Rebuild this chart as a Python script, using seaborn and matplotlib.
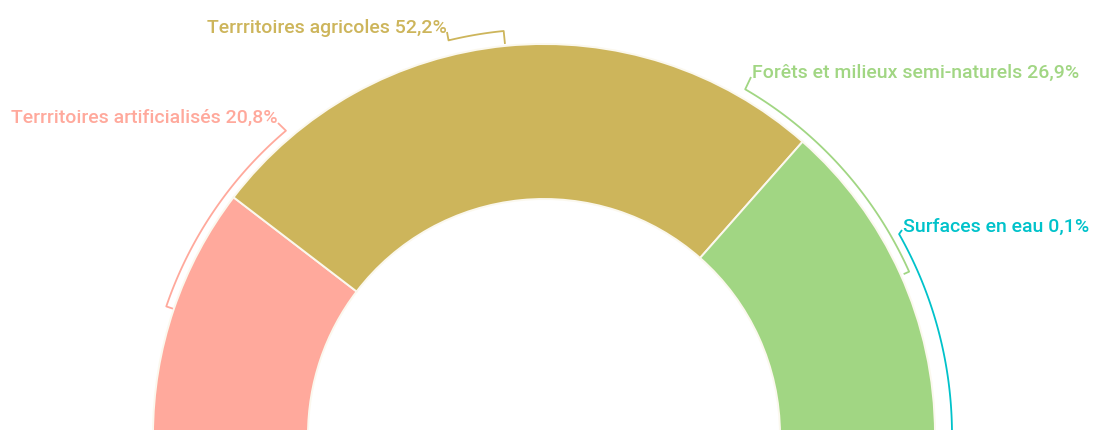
import numpy as np
import seaborn as sns
import matplotlib.pyplot as plt

# données : occupation du sol (%)
categories = ["Terrritoires artificialisés", "Terrritoires agricoles",
              "Forêts et milieux semi-naturels", "Surfaces en eau"]
valeurs = [20.8, 52.2, 26.9, 0.1]
etiquettes = ["20,8%", "52,2%", "26,9%", "0,1%"]
couleurs = ["#FFA99C", "#CDB55B", "#A1D683", "#00C2CA"]

W, H = 1093, 431

sns.set_theme(style="white")
plt.rcParams['font.family'] = ['Roboto', 'DejaVu Sans']

fig = plt.figure(figsize=(W / 100, H / 100), dpi=100)
ax = fig.add_axes([0, 0, 1, 1])

# centre du demi-anneau en pixels (y vers le bas)
cx, cy = 544, 436
r_ext, r_int = 391, 236


def pt(x, y):
    # pixel -> coordonnées du graphe
    return x, H - y


# demi-anneau : la moitié basse est invisible
ax.pie(valeurs + [sum(valeurs)], colors=couleurs + ["none"],
       center=pt(cx, cy), radius=r_ext, startangle=180, counterclock=False,
       wedgeprops=dict(width=r_ext - r_int, edgecolor="#FBF8EE", linewidth=1.4),
       frame=True)
ax.patches[-1].set_edgecolor("none")

# accolades autour de l'anneau : (ancre étiquette px, angle début, angle fin, rayon, rayon du crochet)
accolades = [
    ((278, 124), 130.3, 161.2, 399, 392),
    ((447, 33), 103.6, 95.7, 406, 393),
    ((751, 78), 59.8, 24.1, 400, 394),
    ((902, 231), 29.5, -2.0, 408, None),
]
# position des textes (gauche, ligne de base) en px
textes = [(11, 123), (207, 33), (752, 78), (903, 232)]

ox, oy = pt(cx, cy)
for (ancre, a0, a1, r, r_croc), coul in zip(accolades, couleurs):
    t = np.radians(np.linspace(a0, a1, 120))
    xs = list(ox + r * np.cos(t))
    ys = list(oy + r * np.sin(t))
    ax_, ay_ = pt(*ancre)
    xs = [ax_] + xs
    ys = [ay_] + ys
    if r_croc is not None:
        xs.append(ox + r_croc * np.cos(t[-1]))
        ys.append(oy + r_croc * np.sin(t[-1]))
    ax.plot(xs, ys, color=coul, lw=1.3, solid_capstyle="butt")

for cat, lab, (tx, ty), coul in zip(categories, etiquettes, textes, couleurs):
    x, y = pt(tx, ty)
    ax.text(x, y, f"{cat} {lab}", color=coul, fontsize=14, fontweight="medium",
            ha="left", va="baseline")

ax.set_xlim(0, W)
ax.set_ylim(0, H)
ax.set_aspect("auto")
ax.axis("off")

fig.savefig("out.png", dpi=100, facecolor="white")
